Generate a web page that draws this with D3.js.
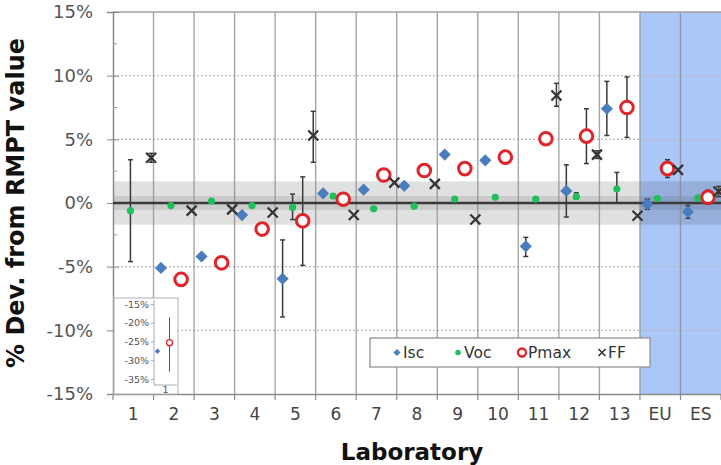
<!DOCTYPE html>
<html><head><meta charset="utf-8">
<script src="https://cdn.jsdelivr.net/npm/d3@7"></script>
<style>body{margin:0;background:#fff}svg{display:block;font-family:"DejaVu Sans",Verdana,sans-serif}</style>
</head><body><svg id="c" width="721" height="465"></svg>
<script>
// ---- data ----
const labs = ["1","2","3","4","5","6","7","8","9","10","11","12","13","EU","ES"];
const seriesNames = ["Isc","Voc","Pmax","FF"];
const isc  = [null,-5.1,-4.2,-0.95,-5.95,0.75,1.05,1.35,3.8,3.35,-3.4,0.95,7.4,-0.1,-0.7];
const voc  = [-0.6,-0.2,0.15,-0.2,-0.35,0.55,-0.45,-0.25,0.3,0.45,0.3,0.5,1.1,0.35,0.4];
const pmax = [null,-6.0,-4.7,-2.05,-1.4,0.3,2.2,2.55,2.7,3.6,5.05,5.25,7.5,2.7,0.45];
const ff   = [3.55,-0.6,-0.5,-0.75,5.3,-0.95,1.6,1.5,-1.3,null,8.45,3.8,-1.0,2.6,0.9];
const iscLo  = [null,null,null,null,-8.95,null,null,null,null,null,-4.2,-1.1,5.3,-0.5,-1.2];
const iscHi  = [null,null,null,null,-2.9,null,null,null,null,null,-2.7,3.0,9.55,0.3,-0.2];
const vocLo  = [-4.6,null,null,null,-1.3,null,null,null,null,null,null,0.3,0.0,null,null];
const vocHi  = [3.4,null,null,null,0.7,null,null,null,null,null,null,0.8,2.4,null,null];
const pmaxLo = [null,null,null,null,-4.9,null,null,null,null,null,null,3.1,5.15,2.0,-0.1];
const pmaxHi = [null,null,null,null,2.05,null,null,null,null,null,null,7.4,9.9,3.4,1.0];
const ffLo   = [3.2,null,null,null,3.2,null,null,null,null,null,7.6,3.5,null,null,0.5];
const ffHi   = [3.9,null,null,null,7.2,null,null,null,null,null,9.4,4.1,null,null,1.3];
const yTicks = [-15,-10,-5,0,5,10,15];
const yGrid = [-10,-5,5,10];
const yMinor = [-12.5,-7.5,-2.5,2.5,7.5,12.5];
const bandOuter = 1.7, bandInner = 0.55;
const refLabs = ["EU","ES"];
// inset (lab 1, off-scale values)
const insetLab = ["1"];
const insetIsc = [-27.6];
const insetPmax = [-25.3];
const insetPmaxLo = [-33];
const insetPmaxHi = [-18.5];
const insetTicks = [-15,-20,-25,-30,-35];

// ---- layout ----
const svg = d3.select("#c");
const L = 113, R = 721, T = 12, B = 394;
const x = d3.scaleBand().domain(labs).range([L, R]).padding(0);
const y = d3.scaleLinear().domain([-15, 15]).range([B, T]);
const bw = x.bandwidth();
const off = {Isc:-0.316, Voc:-0.07, Pmax:0.18, FF:0.44};
const cx = (lab, s) => x(lab) + bw/2 + off[s]*bw;
const colors = {Isc:"#4a7dbb", Voc:"#1fbf5a", Pmax:"#e0242a", FF:"#333"};

// blue reference region
svg.append("rect").attr("x", x(refLabs[0])).attr("y", T).attr("width", R - x(refLabs[0])).attr("height", B - T).attr("fill", "#abc7f7");

// tolerance bands
svg.append("rect").attr("x", L).attr("width", R-L).attr("y", y(bandOuter)).attr("height", y(-bandOuter)-y(bandOuter)).attr("fill","#000").attr("fill-opacity",0.12);
svg.append("rect").attr("x", L).attr("width", R-L).attr("y", y(bandInner)).attr("height", y(-bandInner)-y(bandInner)).attr("fill","#000").attr("fill-opacity",0.09);

// horizontal dotted grid
svg.append("g").selectAll("line").data(yGrid).join("line")
  .attr("x1", L).attr("x2", R).attr("y1", d=>y(d)).attr("y2", d=>y(d))
  .attr("stroke","#b8b8b8").attr("stroke-width",1.2).attr("stroke-dasharray","2,2");

// vertical grid lines at category boundaries
svg.append("g").selectAll("line").data(labs.slice(1)).join("line")
  .attr("x1", d=>x(d)).attr("x2", d=>x(d)).attr("y1", T).attr("y2", B)
  .attr("stroke","#8a8a8a").attr("stroke-opacity",0.75).attr("stroke-width",1.4);

// top border
svg.append("line").attr("x1",L).attr("x2",R).attr("y1",T).attr("y2",T).attr("stroke","#a0a0a0").attr("stroke-width",1.5);

// y axis
const yAxis = d3.axisLeft(y).tickValues(yTicks).tickFormat(d=>d+"%").tickSize(6).tickPadding(14);
const gy = svg.append("g").attr("transform",`translate(${L},0)`).call(yAxis);
gy.select(".domain").attr("stroke","#8a8a8a").attr("stroke-width",1.5);
gy.selectAll(".tick line").attr("stroke","#8a8a8a").attr("x2",-6).attr("x1",6);
gy.selectAll("text").attr("font-size",18).attr("fill","#555").attr("font-family","DejaVu Sans");
svg.append("g").selectAll("line").data(yMinor).join("line")
  .attr("x1",L).attr("x2",L+4).attr("y1",d=>y(d)).attr("y2",d=>y(d)).attr("stroke","#999");

// x axis
const xAxis = d3.axisBottom(x).tickSize(0).tickPadding(14);
const gx = svg.append("g").attr("transform",`translate(0,${B})`).call(xAxis);
gx.select(".domain").attr("stroke","#8a8a8a").attr("stroke-width",1.5);
gx.selectAll("text").attr("font-size",17).attr("fill","#444").attr("font-family","DejaVu Sans");
svg.append("g").selectAll("line").data(labs.concat(["end"])).join("line")
  .attr("x1",(d,i)=> i<labs.length ? x(d) : R).attr("x2",(d,i)=> i<labs.length ? x(d) : R)
  .attr("y1",B).attr("y2",B+6).attr("stroke","#8a8a8a").attr("stroke-width",1.2);

// zero line
svg.append("line").attr("x1",L).attr("x2",R).attr("y1",y(0)).attr("y2",y(0)).attr("stroke","#3a3a3a").attr("stroke-width",2.6);

// axis titles
svg.append("text").attr("x",(L+R)/2 - 5).attr("y",460).attr("text-anchor","middle")
  .attr("font-size",23).attr("font-weight","bold").attr("fill","#111").text("Laboratory");
svg.append("text").attr("transform",`translate(24,${(T+B)/2}) rotate(-90)`).attr("text-anchor","middle")
  .attr("font-size",24).attr("font-weight","bold").attr("fill","#111").text("% Dev. from RMPT value");

// error bars
function errBars(lo, hi, s){
  const d = labs.map((l,i)=>({l, lo:lo[i], hi:hi[i]})).filter(e=>e.lo!=null);
  const g = svg.append("g").attr("stroke","#3a3a3a").attr("stroke-width",1.5);
  g.selectAll(".v").data(d).join("line").attr("x1",e=>cx(e.l,s)).attr("x2",e=>cx(e.l,s)).attr("y1",e=>y(e.lo)).attr("y2",e=>y(e.hi));
  g.selectAll(".c1").data(d).join("line").attr("x1",e=>cx(e.l,s)-2.5).attr("x2",e=>cx(e.l,s)+2.5).attr("y1",e=>y(e.lo)).attr("y2",e=>y(e.lo));
  g.selectAll(".c2").data(d).join("line").attr("x1",e=>cx(e.l,s)-2.5).attr("x2",e=>cx(e.l,s)+2.5).attr("y1",e=>y(e.hi)).attr("y2",e=>y(e.hi));
}
errBars(iscLo, iscHi, "Isc");
errBars(vocLo, vocHi, "Voc");
errBars(pmaxLo, pmaxHi, "Pmax");
errBars(ffLo, ffHi, "FF");

// markers
const diamond = d3.symbol(d3.symbolSquare, 74)();
function pts(vals){ return labs.map((l,i)=>({l, v:vals[i]})).filter(p=>p.v!=null); }
svg.append("g").selectAll("path").data(pts(isc)).join("path")
  .attr("d", diamond).attr("transform", p=>`translate(${cx(p.l,"Isc")},${y(p.v)}) rotate(45)`).attr("fill", colors.Isc);
svg.append("g").selectAll("circle").data(pts(voc)).join("circle")
  .attr("cx", p=>cx(p.l,"Voc")).attr("cy", p=>y(p.v)).attr("r",3.6).attr("fill", colors.Voc);
svg.append("g").selectAll("circle").data(pts(pmax)).join("circle")
  .attr("cx", p=>cx(p.l,"Pmax")).attr("cy", p=>y(p.v)).attr("r",6.3).attr("fill","#fff").attr("stroke",colors.Pmax).attr("stroke-width",3);
const xPath = "M-5,-5L5,5M-5,5L5,-5";
svg.append("g").selectAll("path").data(pts(ff)).join("path")
  .attr("d", xPath).attr("transform", p=>`translate(${cx(p.l,"FF")},${y(p.v)})`).attr("stroke",colors.FF).attr("stroke-width",2.2).attr("fill","none");

// legend
const lg = svg.append("g");
lg.append("rect").attr("x",370).attr("y",338).attr("width",280).attr("height",29).attr("fill","#fff").attr("stroke","#8a8a8a").attr("stroke-width",1.2);
const legX = {Isc:397, Voc:458, Pmax:522, FF:602};
const ly = 352.5;
lg.append("path").attr("d", d3.symbol(d3.symbolSquare, 26)()).attr("transform",`translate(${legX.Isc},${ly}) rotate(45)`).attr("fill",colors.Isc);
lg.append("circle").attr("cx",legX.Voc).attr("cy",ly).attr("r",2.8).attr("fill",colors.Voc);
lg.append("circle").attr("cx",legX.Pmax).attr("cy",ly).attr("r",4).attr("fill","#fff").attr("stroke",colors.Pmax).attr("stroke-width",2.4);
lg.append("path").attr("d","M-3.5,-3.5L3.5,3.5M-3.5,3.5L3.5,-3.5").attr("transform",`translate(${legX.FF},${ly})`).attr("stroke",colors.FF).attr("stroke-width",1.6);
lg.selectAll("text").data(seriesNames).join("text")
  .attr("x", s=>legX[s]+6).attr("y", ly+5.5).attr("font-size",15.5).attr("fill","#333").text(s=>s);

// inset
const inset = svg.append("g");
inset.append("rect").attr("x",114).attr("y",298).attr("width",64).attr("height",96).attr("fill","#fff").attr("stroke","#b0b0b0");
const iy = d3.scaleLinear().domain([-15,-35]).range([304,379]);
const ix = d3.scaleBand().domain(insetLab).range([154,177]);
const giy = inset.append("g").attr("transform","translate(154,0)").call(d3.axisLeft(iy).tickValues(insetTicks).tickFormat(d=>d+"%").tickSize(3).tickPadding(2));
giy.select(".domain").attr("stroke","#aaa").attr("d","M0,300V385");
giy.selectAll(".tick line").attr("stroke","#aaa");
giy.selectAll("text").attr("font-size",9.5).attr("fill","#555").attr("font-family","DejaVu Sans");
inset.append("line").attr("x1",154).attr("x2",177).attr("y1",385).attr("y2",385).attr("stroke","#aaa");
inset.append("text").attr("x",ix("1")+ix.bandwidth()/2).attr("y",393).attr("text-anchor","middle").attr("font-size",9.5).attr("fill","#555").text(insetLab[0]);
const icx = ix("1")+ix.bandwidth()/2;
inset.append("line").attr("x1",icx+4).attr("x2",icx+4).attr("y1",iy(insetPmaxLo[0])).attr("y2",iy(insetPmaxHi[0])).attr("stroke","#555").attr("stroke-width",1);
inset.append("path").attr("d", d3.symbol(d3.symbolSquare, 14)()).attr("transform",`translate(${icx-8},${iy(insetIsc[0])}) rotate(45)`).attr("fill",colors.Isc);
inset.append("circle").attr("cx",icx+4).attr("cy",iy(insetPmax[0])).attr("r",3).attr("fill","#fff").attr("stroke",colors.Pmax).attr("stroke-width",1.3);
</script></body></html>
